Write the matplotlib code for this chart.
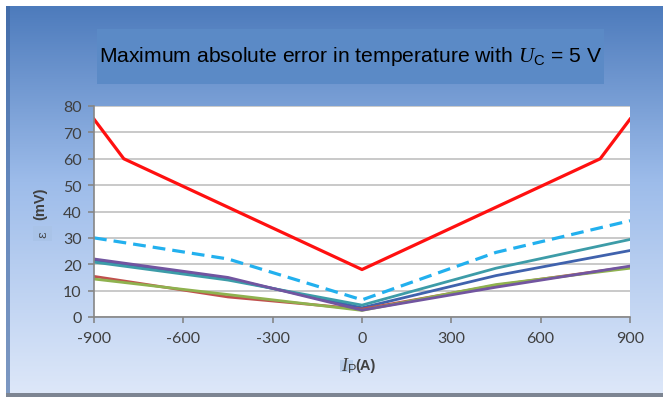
import numpy as np
import matplotlib
matplotlib.use("Agg")
import matplotlib.pyplot as plt
from matplotlib.patches import Rectangle

plt.rcParams['mathtext.fontset'] = 'custom'
plt.rcParams['mathtext.it'] = 'Liberation Serif:italic'
plt.rcParams['mathtext.rm'] = 'Liberation Sans'
plt.rcParams['mathtext.sf'] = 'Liberation Sans'

# ---- data ----
x_main = [-900, -800, 0, 800, 900]
red_main = [75, 60, 18, 60, 75]

x_other = [-900, -450, 0, 450, 900]
dashed_cyan = [30, 22, 6.5, 24.5, 36.5]
teal = [20.8, 14, 4.5, 18.5, 29.4]
dark_blue = [21.3, 14.5, 3.5, 15.7, 25.2]
purple = [22, 15, 2.6, 11.3, 19.3]
green = [14.4, 8.5, 2.5, 12.3, 18.5]
red_thin = [15.4, 7.6, 3.0, 12.0, 19.0]

x_ticks = [-900, -600, -300, 0, 300, 600, 900]
y_ticks = [0, 10, 20, 30, 40, 50, 60, 70, 80]

W, H = 669, 406
fig = plt.figure(figsize=(W / 100, H / 100), dpi=100)
fig.patch.set_facecolor('white')

# background panel with gradient
bg = fig.add_axes([0, 0, 1, 1], zorder=-10)
bg.set_xlim(0, W)
bg.set_ylim(H, 0)
bg.axis('off')
top = np.array([0x4d, 0x7b, 0xbc]) / 255
mid = np.array([0x9d, 0xbc, 0xea]) / 255
bot = np.array([0xde, 0xe8, 0xf9]) / 255
n = 256
t = np.linspace(0, 1, n)[:, None]
grad = np.where(t < 0.45, top + (mid - top) * (t / 0.45), mid + (bot - mid) * ((t - 0.45) / 0.55))
grad = grad[:, None, :].repeat(2, axis=1)
bg.imshow(grad, extent=(6, 663, 397, 7), aspect='auto', interpolation='bilinear')
# left dark edge
bg.add_patch(Rectangle((6, 7), 4, 390, color='#3d649e', alpha=0.6, lw=0))
# bottom shadow
bg.add_patch(Rectangle((6, 394), 657, 4, color='#7d8592', lw=0))
# title box
bg.add_patch(Rectangle((97, 30), 507, 55, color='#5b8ac6', lw=0))
bg.text(351, 57, "Maximum absolute error in temperature with $U_\\mathrm{C}$ = 5 V",
        ha='center', va='center', fontsize=15.2, family='Liberation Sans', color='black')

# y label
bg.add_patch(Rectangle((33, 227), 19, 15, color='#a9c3e8', lw=0))
bg.text(42.5, 234.5, "ε", rotation=90, ha='center', va='center', fontsize=9,
        family='DejaVu Serif', color='#404040')
bg.text(40, 204, "(mV)", rotation=90, ha='center', va='center', fontsize=10.5,
        family='Liberation Sans', fontweight='bold', color='#404040')
# x label
bg.add_patch(Rectangle((340, 361), 13, 12, color='#b7cdea', lw=0))
bg.text(341, 366, "$I_\\mathrm{P}$", ha='left', va='center', fontsize=13, color='#404040')
bg.text(355, 366, "(A)", ha='left', va='center', fontsize=10.5,
        family='Liberation Sans', fontweight='bold', color='#404040')

ax = fig.add_axes([94 / W, (H - 318) / H, 536 / W, 211 / H])
ax.set_facecolor('white')
ax.set_xlim(-900, 900)
ax.set_ylim(0, 80)

lw = 2.0
ax.plot(x_other, dark_blue, color='#4062ad', lw=lw, solid_joinstyle='round')
ax.plot(x_other, red_thin, color='#c0504d', lw=lw, solid_joinstyle='round')
ax.plot(x_other, green, color='#8fb24f', lw=lw, solid_joinstyle='round')
ax.plot(x_other, teal, color='#3d9ca8', lw=lw, solid_joinstyle='round')
ax.plot(x_other, purple, color='#7255a0', lw=lw, solid_joinstyle='round')
ax.plot(x_other, dashed_cyan, color='#22b0ee', lw=2.3, dashes=(4, 2.2))
ax.plot(x_main, red_main, color='#ff1010', lw=2.3, solid_joinstyle='round')

ax.set_xticks(x_ticks)
ax.set_yticks(y_ticks)
ax.set_xticklabels([str(v) for v in x_ticks])
ax.set_yticklabels([str(v) for v in y_ticks])
ax.grid(axis='y', color='#c0c0c0', lw=1.2)
ax.set_axisbelow(True)
for s in ['top', 'right']:
    ax.spines[s].set_visible(False)
for s in ['left', 'bottom']:
    ax.spines[s].set_color('#868686')
    ax.spines[s].set_linewidth(1.2)
ax.tick_params(axis='both', direction='out', length=4, width=1.2, color='#868686',
               labelcolor='#404040', labelsize=11.5)
ax.tick_params(axis='x', pad=6)
ax.tick_params(axis='y', pad=5)
for lab in ax.get_xticklabels() + ax.get_yticklabels():
    lab.set_family('Lato')

fig.savefig('out.png', dpi=100)
